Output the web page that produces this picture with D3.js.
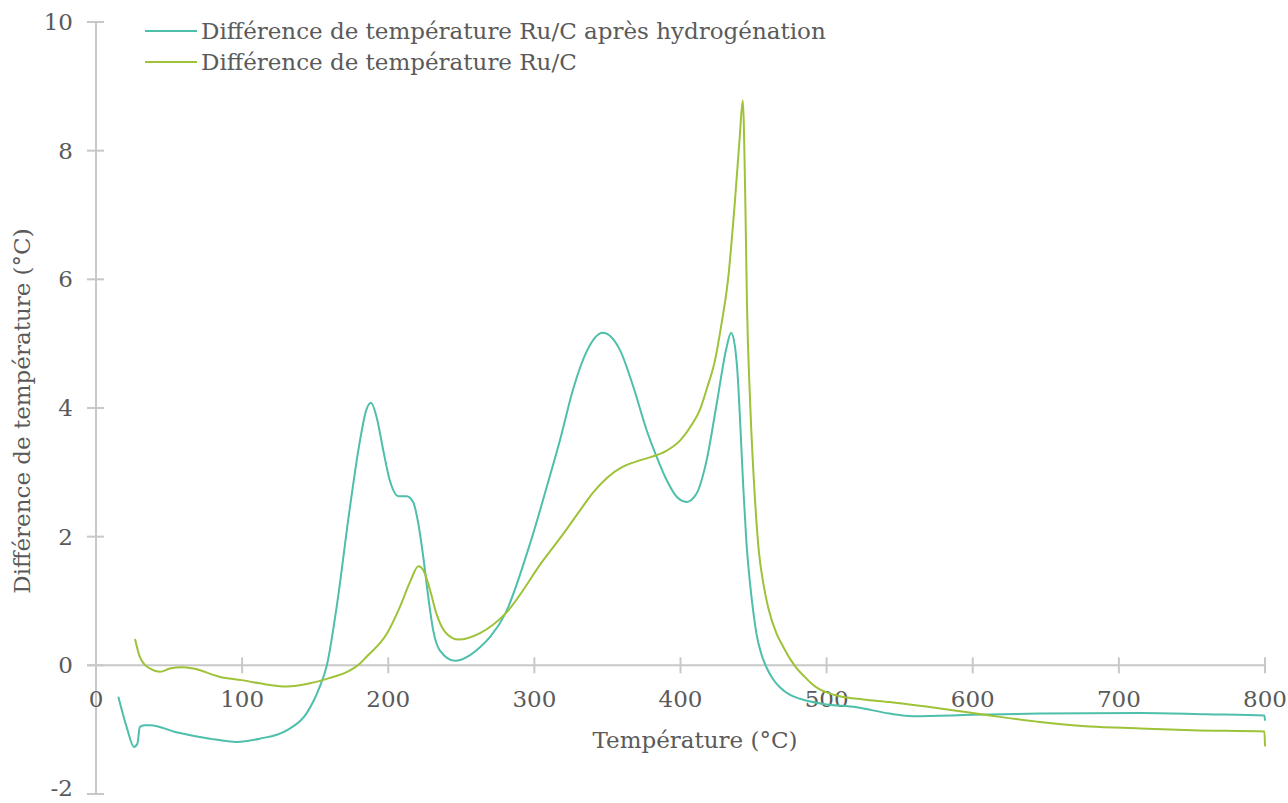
<!DOCTYPE html>
<html>
<head>
<meta charset="utf-8">
<script src="https://cdn.jsdelivr.net/npm/d3@7"></script>
<style>
  html, body { margin: 0; padding: 0; background: #fff; }
  svg { display: block; }
  text { font-family: "DejaVu Serif", "Liberation Serif", "Times New Roman", serif; fill: #5a5a5a; }
</style>
</head>
<body>
<svg id="chart" width="1288" height="803"></svg>
<script>
// ---- Data ----
const seriesNames = [
  "Différence de température Ru/C après hydrogénation",
  "Différence de température Ru/C"
];
const xTicks = [0, 100, 200, 300, 400, 500, 600, 700, 800];
const yTicks = [-2, 0, 2, 4, 6, 8, 10];
const xTitle = "Température (°C)";
const yTitle = "Différence de température (°C)";

// After hydrogenation (teal)
const tempHydro = [15.3, 21, 26, 28.3, 30, 33, 37, 55, 78, 96.3, 112, 130.5, 144, 153, 158, 164.7, 173.8, 180.7, 185, 188.2, 192, 196.6, 201, 207, 212.6, 217, 220.6, 224, 227.4, 230.8, 235.4, 245.7, 256, 262.8, 270, 280, 297, 310.7, 317.5, 326.6, 335.8, 346.7, 358.6, 367.7, 376.9, 383.7, 390.5, 397.4, 404.2, 411, 417.9, 424.8, 431.6, 434.6, 437.3, 439, 441, 443, 445, 447.6, 450, 452, 455, 458.8, 463.5, 468, 475, 481.8, 497.7, 520.5, 543, 559, 600, 646, 714.5, 760, 799.6, 800];
const diffHydro = [-0.49, -0.96, -1.27, -1.22, -0.96, -0.93, -0.93, -1.04, -1.14, -1.19, -1.14, -1.01, -0.75, -0.34, 0, 0.91, 2.46, 3.5, 3.97, 4.08, 3.86, 3.34, 2.88, 2.63, 2.63, 2.54, 2.2, 1.68, 1.06, 0.54, 0.23, 0.07, 0.16, 0.28, 0.45, 0.8, 1.89, 2.95, 3.5, 4.3, 4.88, 5.17, 4.9, 4.33, 3.65, 3.24, 2.88, 2.62, 2.54, 2.67, 3.19, 4.07, 4.95, 5.17, 4.95, 4.55, 3.7, 2.75, 1.95, 1.27, 0.8, 0.49, 0.2, -0.03, -0.22, -0.34, -0.46, -0.52, -0.6, -0.65, -0.75, -0.79, -0.77, -0.75, -0.74, -0.76, -0.78, -0.86];

// Ru/C (green)
const tempRuC = [26.7, 30, 33, 37, 43.8, 50.6, 58.6, 66.6, 84.9, 99.7, 112, 130.5, 146.4, 158, 173.8, 180.7, 185, 199, 208, 215, 220.6, 224, 228.6, 233, 240, 248, 262.8, 280, 306, 320, 331, 340, 350, 360, 370, 380, 390, 400, 408, 413.4, 418, 423.6, 428, 432.5, 437.3, 440.5, 442.6, 444.3, 445.5, 447.6, 451, 453.5, 456.7, 460, 465.8, 470, 475, 480, 485, 490, 495, 500, 509, 525, 543, 577.6, 611.8, 646, 680, 714.5, 750, 799.6, 800];
const diffRuC = [0.41, 0.13, 0.02, -0.05, -0.1, -0.05, -0.03, -0.05, -0.18, -0.23, -0.28, -0.33, -0.28, -0.21, -0.08, 0.03, 0.13, 0.49, 0.91, 1.3, 1.54, 1.48, 1.17, 0.8, 0.49, 0.4, 0.5, 0.8, 1.63, 2.05, 2.4, 2.68, 2.92, 3.08, 3.17, 3.24, 3.33, 3.5, 3.75, 3.98, 4.3, 4.74, 5.3, 5.99, 7.23, 8.2, 8.78, 7.3, 5.6, 4.12, 2.57, 1.8, 1.27, 0.9, 0.49, 0.3, 0.1, -0.06, -0.18, -0.29, -0.37, -0.42, -0.48, -0.53, -0.57, -0.67, -0.78, -0.88, -0.95, -0.98, -1.01, -1.03, -1.26];

const colors = ["#4dbfaa", "#9ec238"];

// ---- Chart ----
const svg = d3.select("#chart");
const x = d3.scaleLinear().domain([0, 800]).range([96, 1265]);
const y = d3.scaleLinear().domain([-2, 10]).range([794, 22]);
const axisColor = "#c8c8c8";
const fs = 23;

// Y axis
svg.append("line").attr("x1", x(0)).attr("x2", x(0)).attr("y1", y(10)).attr("y2", y(-2))
  .attr("stroke", axisColor).attr("stroke-width", 2);
yTicks.forEach(v => {
  svg.append("line").attr("x1", x(0) - 9).attr("x2", x(0) + 8).attr("y1", y(v)).attr("y2", y(v))
    .attr("stroke", axisColor).attr("stroke-width", 2);
  svg.append("text").attr("x", 73).attr("y", Math.min(y(v) + 8, 796)).attr("text-anchor", "end")
    .attr("font-size", fs).text(v);
});

// X axis at y = 0
svg.append("line").attr("x1", x(0) - 9).attr("x2", x(800)).attr("y1", y(0)).attr("y2", y(0))
  .attr("stroke", axisColor).attr("stroke-width", 2);
xTicks.forEach(v => {
  svg.append("line").attr("x1", x(v)).attr("x2", x(v)).attr("y1", y(0) - 8).attr("y2", y(0) + 8)
    .attr("stroke", axisColor).attr("stroke-width", 2);
  svg.append("text").attr("x", x(v)).attr("y", 707).attr("text-anchor", "middle")
    .attr("font-size", fs).text(v);
});

// Axis titles
svg.append("text").attr("x", 695).attr("y", 748).attr("text-anchor", "middle")
  .attr("font-size", fs).text(xTitle);
svg.append("text").attr("transform", "translate(30,411) rotate(-90)").attr("text-anchor", "middle")
  .attr("font-size", fs).text(yTitle);

// Lines
const line = d3.line().x(d => x(d[0])).y(d => y(d[1])).curve(d3.curveMonotoneX);
const data = [
  d3.zip(tempHydro, diffHydro),
  d3.zip(tempRuC, diffRuC)
];
data.forEach((pts, i) => {
  svg.append("path").datum(pts).attr("d", line).attr("fill", "none")
    .attr("stroke", colors[i]).attr("stroke-width", 2).attr("stroke-linejoin", "round");
});

// Legend
seriesNames.forEach((name, i) => {
  const ly = 31 + i * 31;
  svg.append("line").attr("x1", 145).attr("x2", 197).attr("y1", ly).attr("y2", ly)
    .attr("stroke", colors[i]).attr("stroke-width", 2);
  svg.append("text").attr("x", 201).attr("y", ly + 8).attr("font-size", fs).text(name);
});
</script>
</body>
</html>
